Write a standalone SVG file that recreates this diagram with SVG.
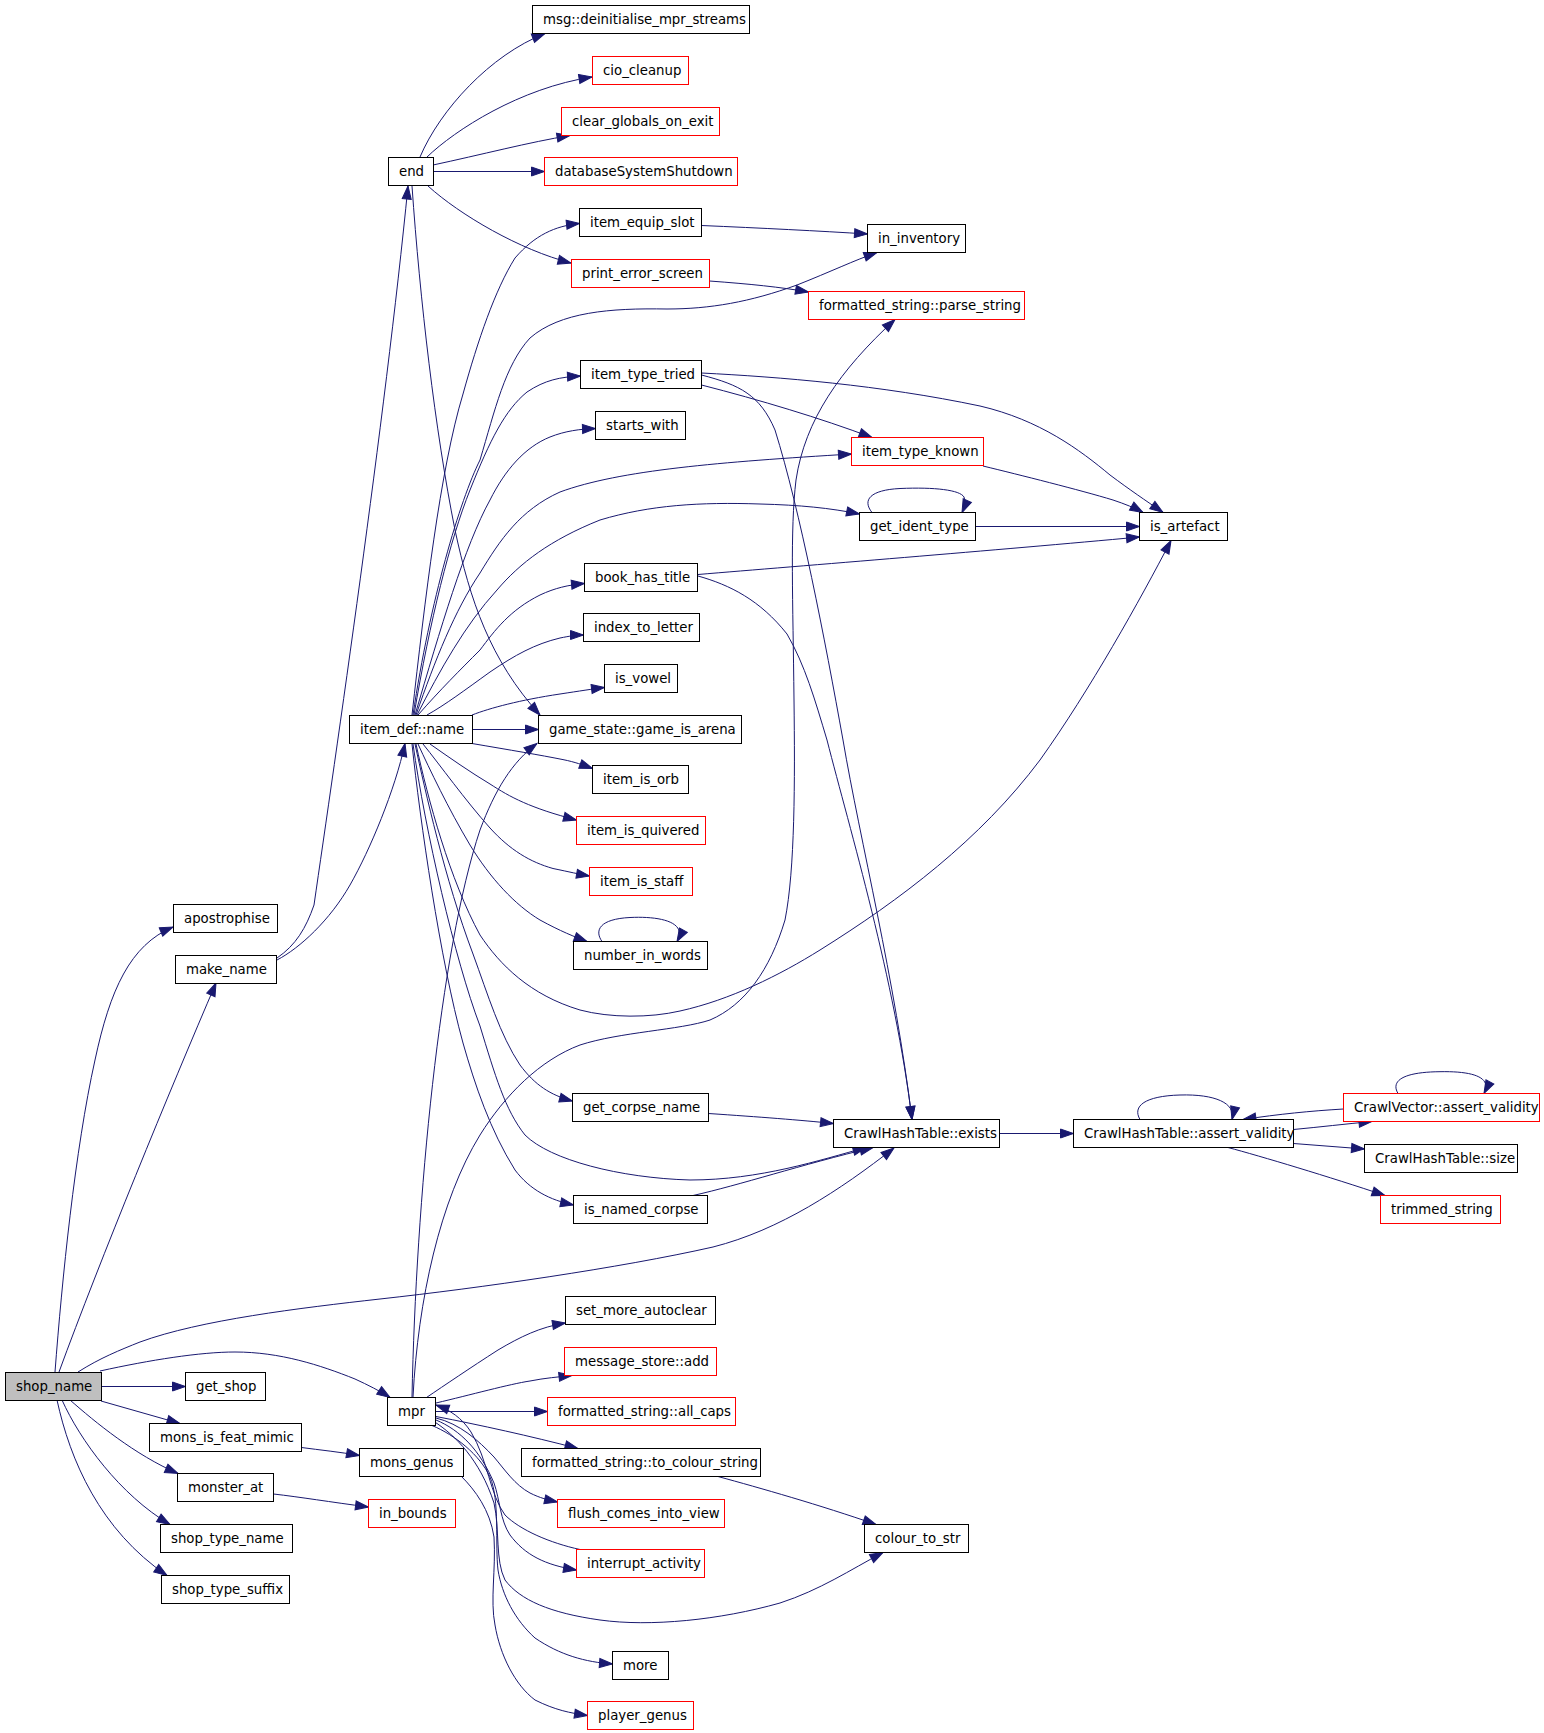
<svg xmlns="http://www.w3.org/2000/svg" width="1544" height="1733" viewBox="0 0 1544 1733">
<style>
.n rect{fill:#fff;stroke:#000;stroke-width:1}
.n.r rect{stroke:#f00}
.n.g rect{fill:#bfbfbf}
.n text{font-family:"DejaVu Sans","Liberation Sans",sans-serif;font-size:13.3px;fill:#000}
.e path{fill:none;stroke:#191970;stroke-width:1;marker-end:url(#a)}
</style>
<defs>
<marker id="a" markerWidth="13" markerHeight="9" refX="13" refY="4.5" orient="auto" markerUnits="userSpaceOnUse" overflow="visible">
<path d="M0,0 L13,4.5 L0,9 z" fill="#191970" stroke="#191970" stroke-width="1"/>
</marker>
</defs>
<rect width="1544" height="1733" fill="#fff"/>
<g id="edges" class="e">
<path d="M55,1372 C62,1280 75,1150 95,1060 C110,990 130,945 173,927"/>
<path d="M59,1372 C100,1260 170,1090 216,983"/>
<path d="M78,1372 C100,1358 120,1350 140,1342 C200,1320 300,1308 380,1299 C480,1288 620,1268 713,1247 C780,1230 840,1190 894,1148"/>
<path d="M101.5,1386.5 L185.5,1386.5"/>
<path d="M100,1371 C150,1360 200,1352 235,1352 C280,1352 320,1365 355,1379 C368,1385 380,1391 390,1397.5"/>
<path d="M101,1401 L180,1423.5"/>
<path d="M70,1400 C95,1422 135,1455 178,1473.5"/>
<path d="M62,1400 C80,1440 120,1495 170,1524.5"/>
<path d="M57,1400 C70,1460 100,1530 167,1575.5"/>
<path d="M277,958 C296,945 306,928 314,905 C335,760 385,420 408,186"/>
<path d="M277,960 C300,948 330,920 350,885 C370,850 395,790 405,743.5"/>
<path d="M420,157 C440,110 490,55 545,33.5"/>
<path d="M427,157 C455,130 520,88 592,77"/>
<path d="M433,165 C480,155 530,142 570,135.5"/>
<path d="M433.5,171.5 L544.5,171.5"/>
<path d="M428,186 C460,215 520,250 571,263"/>
<path d="M412,186 C420,300 435,430 455,530 C470,600 490,660 540,715"/>
<path d="M412,715 C425,600 440,470 463,394 C478,340 495,290 515,258 C535,235 555,226 579.5,223.5"/>
<path d="M413,715 C430,600 460,500 480,460 C495,410 505,365 530,338 C560,312 610,308 667,309 C710,309 750,302 797,285 C830,272 855,260 877,252.5"/>
<path d="M414,715 C430,620 450,540 470,490 C490,440 505,410 527,392 C545,380 560,377 580.5,376"/>
<path d="M415,715 C440,630 465,545 490,500 C505,470 525,447 550,437 C565,431 580,429 595.5,428.5"/>
<path d="M416,715 C435,660 455,610 480,573 C500,540 520,510 560,492 C620,470 720,462 851.5,454"/>
<path d="M417,715 C440,670 465,625 497,590 C520,563 550,540 600,520 C650,505 700,502 760,504 C800,505 830,508 859.5,514"/>
<path d="M418,715 C440,690 460,670 480,650 C495,630 510,610 540,595 C555,588 568,585 584.5,583.5"/>
<path d="M427,715 C445,705 465,690 490,672 C515,655 535,644 560,638 C570,636 576,635 583.5,635"/>
<path d="M472,715 C490,708 520,700 560,694 C580,691 592,689 604.5,687.5"/>
<path d="M472.5,729.5 L538.5,729.5"/>
<path d="M472,743.5 C510,750 540,755 563,759.6 C575,762 583,765 592.5,768.5"/>
<path d="M430,744 C450,758 470,772 490,784 C510,797 530,808 576.5,820"/>
<path d="M423,744 C440,765 465,800 490,828 C510,850 530,862 553,868.5 C570,872 578,874 589.5,876"/>
<path d="M418,744 C430,770 448,808 470,845 C490,878 515,905 540,920 C560,931 575,937 587,941.5"/>
<path d="M602,941.5 C594,930 600,919 630,917.5 C660,916 688,922 677,941.5"/>
<path d="M416,744 C428,800 450,880 480,935 C500,965 530,995 580,1010 C610,1018 650,1018 680,1011 C730,1000 780,975 820,950 C900,900 980,840 1040,760 C1090,690 1140,600 1171,540.5"/>
<path d="M415,744 C425,790 445,880 473,954 C488,995 500,1035 520,1065 C535,1085 550,1095 572.5,1101"/>
<path d="M413,744 C425,830 455,960 480,1026 C495,1075 505,1110 525,1135 C550,1160 620,1178 690,1180 C760,1180 820,1160 866,1147.5"/>
<path d="M412,744 C420,820 440,960 463,1043 C475,1085 490,1130 515,1170 C530,1190 550,1200 573.5,1205"/>
<path d="M708.5,1113.5 C760,1117 800,1120 833.5,1123.5"/>
<path d="M693,1195.5 C740,1185 800,1165 873,1147.5"/>
<path d="M701.5,225.5 C760,228 820,231 867.5,234"/>
<path d="M709.5,281 C750,284 780,287 808.5,292"/>
<path d="M413,1397 C418,1300 440,1200 480,1135 C505,1095 540,1060 580,1045 C620,1032 680,1030 710,1020 C745,1005 770,970 785,920 C795,870 795,780 794,700 C793,600 790,530 796,480 C805,420 840,370 895,319.5"/>
<path d="M412,1397 C416,1200 440,950 480,830 C495,790 512,762 537,743.5"/>
<path d="M701.5,373 C780,377 880,385 980,406 C1040,420 1080,450 1110,475 C1130,490 1145,500 1163,512.5"/>
<path d="M701.5,385 C760,400 820,418 872,437.5"/>
<path d="M701.5,375 C740,385 760,395 775,430 C800,510 825,640 843,740 C860,840 895,980 912,1119.5"/>
<path d="M698,576 C730,585 760,600 787,634 C805,665 815,700 827,740 C850,830 895,980 912,1119.5"/>
<path d="M983,466 C1020,475 1080,490 1113,500 C1125,504 1135,508 1143,512.5"/>
<path d="M872,512.5 C862,500 870,490 900,488.5 C935,487 960,490 964,497 C966,503 964,508 962,512.5"/>
<path d="M975.5,526.5 L1139.5,526.5"/>
<path d="M698,574.5 C800,566 1000,550 1139.5,537"/>
<path d="M999.5,1133.5 L1073.5,1133.5"/>
<path d="M1140,1119.5 C1132,1106 1145,1096 1180,1095 C1215,1094 1236,1103 1232,1119.5"/>
<path d="M1293.5,1129.5 C1320,1127 1345,1124 1372,1121.5"/>
<path d="M1343.5,1109 C1310,1111 1280,1114 1243,1119.5"/>
<path d="M1398,1093.5 C1390,1080 1405,1072 1440,1071.7 C1475,1071 1492,1078 1484,1093.5"/>
<path d="M1293.5,1143.5 L1364.5,1149"/>
<path d="M1228,1147.5 C1260,1156 1330,1177 1385,1195.5"/>
<path d="M426.5,1397.5 C445,1385 470,1368 498,1350 C520,1337 540,1327 565.5,1323"/>
<path d="M436,1403 C470,1395 510,1384 530,1381 C545,1378 558,1377 572,1375.5"/>
<path d="M435.5,1411.5 L547.5,1411.5"/>
<path d="M436,1416.5 C480,1425 530,1436 578,1448.5"/>
<path d="M436,1418 C460,1424 478,1440 494,1457 C505,1470 515,1485 530,1493 C540,1498 548,1500 557.5,1502"/>
<path d="M580,1549.5 C550,1543 520,1530 505,1515 C490,1495 488,1460 471,1432 C462,1418 450,1410 436,1405"/>
<path d="M436,1420 C460,1430 480,1450 494,1483 C500,1500 500,1520 510,1535 C525,1555 545,1565 576.5,1570"/>
<path d="M434,1421.5 C455,1435 480,1460 494,1503 C500,1530 495,1560 505,1580 C520,1600 550,1613 600,1620 C650,1627 720,1620 780,1603 C820,1590 850,1570 883,1552.5"/>
<path d="M718,1476.5 C760,1488 820,1505 876,1524.5"/>
<path d="M432,1425.5 C455,1435 480,1455 490,1477 C500,1500 495,1545 498,1570 C502,1595 515,1620 535,1638 C560,1655 585,1662 612.5,1664"/>
<path d="M461.5,1476.5 C475,1490 490,1510 494,1537 C496,1570 490,1600 495,1625 C500,1655 515,1685 535,1700 C555,1710 570,1713 587.5,1715.5"/>
<path d="M301.5,1447.5 C320,1450 340,1452 359.5,1455.5"/>
<path d="M273.5,1494 C300,1497 330,1502 368.5,1507"/>
</g>
<g id="n-shop_name" class="n g"><rect x="5.5" y="1372.5" width="96" height="28"/><text x="16" y="1391.2">shop_name</text></g>
<g id="n-apostrophise" class="n"><rect x="173.5" y="904.5" width="104" height="28"/><text x="184" y="923.2">apostrophise</text></g>
<g id="n-make_name" class="n"><rect x="175.5" y="955.5" width="101" height="28"/><text x="186" y="974.2">make_name</text></g>
<g id="n-get_shop" class="n"><rect x="185.5" y="1372.5" width="80" height="28"/><text x="196" y="1391.2">get_shop</text></g>
<g id="n-mons_is_feat_mimic" class="n"><rect x="149.5" y="1423.5" width="152" height="28"/><text x="160" y="1442.2">mons_is_feat_mimic</text></g>
<g id="n-monster_at" class="n"><rect x="177.5" y="1473.5" width="96" height="28"/><text x="188" y="1492.2">monster_at</text></g>
<g id="n-shop_type_name" class="n"><rect x="160.5" y="1524.5" width="132" height="28"/><text x="171" y="1543.2">shop_type_name</text></g>
<g id="n-shop_type_suffix" class="n"><rect x="161.5" y="1575.5" width="128" height="28"/><text x="172" y="1594.2">shop_type_suffix</text></g>
<g id="n-end" class="n"><rect x="388.5" y="157.5" width="45" height="28"/><text x="399" y="176.2">end</text></g>
<g id="n-item_def_name" class="n"><rect x="349.5" y="715.5" width="123" height="28"/><text x="360" y="734.2">item_def::name</text></g>
<g id="n-mpr" class="n"><rect x="387.5" y="1397.5" width="48" height="28"/><text x="398" y="1416.2">mpr</text></g>
<g id="n-mons_genus" class="n"><rect x="359.5" y="1448.5" width="104" height="28"/><text x="370" y="1467.2">mons_genus</text></g>
<g id="n-in_bounds" class="n r"><rect x="368.5" y="1499.5" width="87" height="28"/><text x="379" y="1518.2">in_bounds</text></g>
<g id="n-msg_deinitialise_mpr_streams" class="n"><rect x="532.5" y="5.5" width="217" height="28"/><text x="543" y="24.2">msg::deinitialise_mpr_streams</text></g>
<g id="n-cio_cleanup" class="n r"><rect x="592.5" y="56.5" width="96" height="28"/><text x="603" y="75.2">cio_cleanup</text></g>
<g id="n-clear_globals_on_exit" class="n r"><rect x="561.5" y="107.5" width="158" height="28"/><text x="572" y="126.2">clear_globals_on_exit</text></g>
<g id="n-databaseSystemShutdown" class="n r"><rect x="544.5" y="157.5" width="193" height="28"/><text x="555" y="176.2">databaseSystemShutdown</text></g>
<g id="n-item_equip_slot" class="n"><rect x="579.5" y="208.5" width="122" height="28"/><text x="590" y="227.2">item_equip_slot</text></g>
<g id="n-print_error_screen" class="n r"><rect x="571.5" y="259.5" width="138" height="28"/><text x="582" y="278.2">print_error_screen</text></g>
<g id="n-item_type_tried" class="n"><rect x="580.5" y="360.5" width="121" height="28"/><text x="591" y="379.2">item_type_tried</text></g>
<g id="n-starts_with" class="n"><rect x="595.5" y="411.5" width="90" height="28"/><text x="606" y="430.2">starts_with</text></g>
<g id="n-book_has_title" class="n"><rect x="584.5" y="563.5" width="113" height="28"/><text x="595" y="582.2">book_has_title</text></g>
<g id="n-index_to_letter" class="n"><rect x="583.5" y="613.5" width="116" height="28"/><text x="594" y="632.2">index_to_letter</text></g>
<g id="n-is_vowel" class="n"><rect x="604.5" y="664.5" width="73" height="28"/><text x="615" y="683.2">is_vowel</text></g>
<g id="n-game_is_arena" class="n"><rect x="538.5" y="715.5" width="203" height="28"/><text x="549" y="734.2">game_state::game_is_arena</text></g>
<g id="n-item_is_orb" class="n"><rect x="592.5" y="765.5" width="96" height="28"/><text x="603" y="784.2">item_is_orb</text></g>
<g id="n-item_is_quivered" class="n r"><rect x="576.5" y="816.5" width="129" height="28"/><text x="587" y="835.2">item_is_quivered</text></g>
<g id="n-item_is_staff" class="n r"><rect x="589.5" y="867.5" width="103" height="28"/><text x="600" y="886.2">item_is_staff</text></g>
<g id="n-number_in_words" class="n"><rect x="573.5" y="941.5" width="134" height="28"/><text x="584" y="960.2">number_in_words</text></g>
<g id="n-get_corpse_name" class="n"><rect x="572.5" y="1093.5" width="136" height="28"/><text x="583" y="1112.2">get_corpse_name</text></g>
<g id="n-is_named_corpse" class="n"><rect x="573.5" y="1195.5" width="134" height="28"/><text x="584" y="1214.2">is_named_corpse</text></g>
<g id="n-set_more_autoclear" class="n"><rect x="565.5" y="1296.5" width="150" height="28"/><text x="576" y="1315.2">set_more_autoclear</text></g>
<g id="n-message_store_add" class="n r"><rect x="564.5" y="1347.5" width="152" height="28"/><text x="575" y="1366.2">message_store::add</text></g>
<g id="n-all_caps" class="n r"><rect x="547.5" y="1397.5" width="188" height="28"/><text x="558" y="1416.2">formatted_string::all_caps</text></g>
<g id="n-to_colour_string" class="n"><rect x="521.5" y="1448.5" width="239" height="28"/><text x="532" y="1467.2">formatted_string::to_colour_string</text></g>
<g id="n-flush_comes_into_view" class="n r"><rect x="557.5" y="1499.5" width="167" height="28"/><text x="568" y="1518.2">flush_comes_into_view</text></g>
<g id="n-interrupt_activity" class="n r"><rect x="576.5" y="1549.5" width="128" height="28"/><text x="587" y="1568.2">interrupt_activity</text></g>
<g id="n-more" class="n"><rect x="612.5" y="1651.5" width="56" height="28"/><text x="623" y="1670.2">more</text></g>
<g id="n-player_genus" class="n r"><rect x="587.5" y="1701.5" width="106" height="28"/><text x="598" y="1720.2">player_genus</text></g>
<g id="n-in_inventory" class="n"><rect x="867.5" y="224.5" width="98" height="28"/><text x="878" y="243.2">in_inventory</text></g>
<g id="n-parse_string" class="n r"><rect x="808.5" y="291.5" width="216" height="28"/><text x="819" y="310.2">formatted_string::parse_string</text></g>
<g id="n-item_type_known" class="n r"><rect x="851.5" y="437.5" width="132" height="28"/><text x="862" y="456.2">item_type_known</text></g>
<g id="n-get_ident_type" class="n"><rect x="859.5" y="512.5" width="116" height="28"/><text x="870" y="531.2">get_ident_type</text></g>
<g id="n-CrawlHashTable_exists" class="n"><rect x="833.5" y="1119.5" width="166" height="28"/><text x="844" y="1138.2">CrawlHashTable::exists</text></g>
<g id="n-colour_to_str" class="n"><rect x="864.5" y="1524.5" width="104" height="28"/><text x="875" y="1543.2">colour_to_str</text></g>
<g id="n-is_artefact" class="n"><rect x="1139.5" y="512.5" width="88" height="28"/><text x="1150" y="531.2">is_artefact</text></g>
<g id="n-CrawlHashTable_assert_validity" class="n"><rect x="1073.5" y="1119.5" width="220" height="28"/><text x="1084" y="1138.2">CrawlHashTable::assert_validity</text></g>
<g id="n-CrawlVector_assert_validity" class="n r"><rect x="1343.5" y="1093.5" width="196" height="28"/><text x="1354" y="1112.2">CrawlVector::assert_validity</text></g>
<g id="n-CrawlHashTable_size" class="n"><rect x="1364.5" y="1144.5" width="153" height="28"/><text x="1375" y="1163.2">CrawlHashTable::size</text></g>
<g id="n-trimmed_string" class="n r"><rect x="1380.5" y="1195.5" width="120" height="28"/><text x="1391" y="1214.2">trimmed_string</text></g>
</svg>
